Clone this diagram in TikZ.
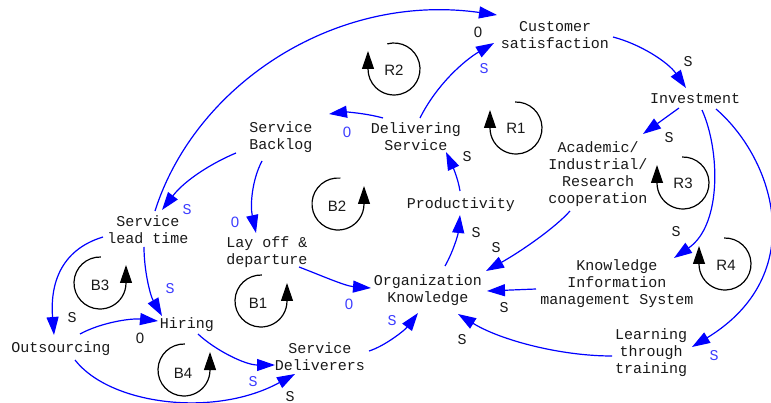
\documentclass[tikz,border=0pt]{standalone}
\usepackage{fontspec}
\setmonofont{Liberation Mono}
\newfontfamily\loopfont{Liberation Sans}
\usetikzlibrary{arrows.meta}
\definecolor{linkblue}{RGB}{0,0,255}
\definecolor{signblue}{RGB}{60,60,255}
\definecolor{txt}{RGB}{25,25,25}
\tikzset{
  var/.style={font=\ttfamily\fontsize{15}{17}\selectfont, align=center, inner sep=0pt, text=txt},
  link/.style={draw=linkblue, line width=1.2pt, -{Triangle[length=18pt,width=12pt]}},
  sgnb/.style={font=\ttfamily\fontsize{15}{17}\selectfont, inner sep=0pt, text=txt},
  sgnc/.style={font=\ttfamily\fontsize{15}{17}\selectfont, inner sep=0pt, text=signblue},
  zb/.style={font=\loopfont\fontsize{15}{17}\selectfont, inner sep=0pt, text=txt},
  zc/.style={font=\loopfont\fontsize{15}{17}\selectfont, inner sep=0pt, text=signblue},
  looplab/.style={font=\loopfont\fontsize{15}{17}\selectfont, inner sep=0pt, text=txt},
  loopline/.style={draw=black, line width=1.2pt, -{Triangle[length=18pt,width=12pt]}},
}
\begin{document}
\begin{tikzpicture}[x=1pt,y=1pt]
\useasboundingbox (0,0) rectangle (771,-403);
% variables
\node[var] (cs) at (555,-35) {Customer\\satisfaction};
\node[var] (inv) at (695,-99) {Investment};
\node[var] (sb) at (281,-137) {Service\\Backlog};
\node[var] (ds) at (416,-137) {Delivering\\Service};
\node[var] (ac) at (598,-174) {Academic/\\Industrial/\\Research\\cooperation};
\node[var] (pr) at (461,-205) {Productivity};
\node[var] (slt) at (148,-230) {Service\\lead time};
\node[var] (lo) at (267,-252) {Lay off \&\\departure};
\node[var] (ok) at (428,-290) {Organization\\Knowledge};
\node[var] (kims) at (617,-284) {Knowledge\\Information\\management System};
\node[var] (lt) at (651,-353) {Learning\\through\\training};
\node[var] (hi) at (187,-325) {Hiring};
\node[var] (os) at (61,-349) {Outsourcing};
\node[var] (sd) at (320,-357) {Service\\Deliverers};
% connectors
\draw[link] ([shift={(7,19)}]slt.center) .. controls (195,-85) and (335,8) .. ([shift={(-58,20)}]cs.center);
\draw[link] ([shift={(4,19)}]ds.center) .. controls (437,-84) and (465,-60) .. ([shift={(-61,-8)}]cs.center);
\draw[link] ([shift={(58,-2)}]cs.center) .. controls (640,-44) and (668,-62) .. ([shift={(-9,11)}]inv.center);
\draw[link] ([shift={(-16,-9)}]inv.center) -- ([shift={(45,40)}]ac.center);
\draw[link] ([shift={(7,-11)}]inv.center) .. controls (720,-150) and (722,-225) .. ([shift={(57,26)}]kims.center);
\draw[link] ([shift={(21,-10)}]inv.center) .. controls (775,-160) and (810,-275) .. ([shift={(41,6)}]lt.center);
\draw[link] ([shift={(-33,19)}]ds.center) .. controls (365,-113) and (345,-112) .. ([shift={(48,23)}]sb.center);
\draw[link] ([shift={(-45,-16)}]sb.center) .. controls (212,-163) and (185,-180) .. ([shift={(14,20)}]slt.center);
\draw[link] ([shift={(-19,-24)}]sb.center) .. controls (252,-180) and (250,-205) .. ([shift={(-11,19)}]lo.center);
\draw[link] ([shift={(32,-15)}]lo.center) .. controls (320,-275) and (345,-286) .. ([shift={(-57,2)}]ok.center);
\draw[link] ([shift={(-1,14)}]pr.center) .. controls (458,-178) and (452,-165) .. ([shift={(30,-15)}]ds.center);
\draw[link] ([shift={(17,24)}]ok.center) .. controls (453,-252) and (458,-235) .. ([shift={(-1,-10)}]pr.center);
\draw[link] ([shift={(-28,-37)}]ac.center) .. controls (555,-228) and (520,-252) .. ([shift={(58,19)}]ok.center);
\draw[link] ([shift={(-81,-5)}]kims.center) -- ([shift={(59,-1)}]ok.center);
\draw[link] ([shift={(-39,-3)}]lt.center) .. controls (560,-356) and (500,-340) .. ([shift={(30,-24)}]ok.center);
\draw[link] ([shift={(49,6)}]sd.center) .. controls (385,-346) and (405,-330) .. ([shift={(-10,-23)}]ok.center);
\draw[link] ([shift={(-4,-17)}]slt.center) .. controls (144,-270) and (150,-295) .. ([shift={(-25,9)}]hi.center);
\draw[link] ([shift={(-45,-7)}]slt.center) .. controls (60,-250) and (50,-285) .. ([shift={(-7,14)}]os.center);
\draw[link] ([shift={(19,15)}]os.center) .. controls (100,-323) and (130,-318) .. ([shift={(-29,4)}]hi.center);
\draw[link] ([shift={(11,-9)}]hi.center) .. controls (215,-350) and (245,-365) .. ([shift={(-45,-8)}]sd.center);
\draw[link] ([shift={(14,-11)}]os.center) .. controls (110,-405) and (215,-418) .. ([shift={(-25,-17)}]sd.center);
% signs
\node[zb] (s1) at (478,-32) {0};
\node[sgnc] (s2) at (484,-69) {S};
\node[sgnb] (s3) at (688,-62) {S};
\node[sgnb] (s4) at (669,-138) {S};
\node[sgnb] (s5) at (676,-232) {S};
\node[sgnc] (s6) at (714,-356) {S};
\node[zc] (s7) at (347,-132) {0};
\node[sgnc] (s8) at (187,-210) {S};
\node[zc] (s9) at (235,-222) {0};
\node[zc] (s10) at (349,-304) {0};
\node[sgnb] (s11) at (467,-157) {S};
\node[sgnb] (s12) at (476,-233) {S};
\node[sgnb] (s13) at (496,-248) {S};
\node[sgnb] (s14) at (504,-308) {S};
\node[sgnb] (s15) at (462,-340) {S};
\node[sgnc] (s16) at (392,-321) {S};
\node[sgnc] (s17) at (170,-289) {S};
\node[sgnb] (s18) at (72,-318) {S};
\node[zb] (s19) at (140,-338) {0};
\node[sgnc] (s20) at (253,-382) {S};
\node[sgnb] (s21) at (290,-397) {S};
% loops
\node[looplab] (R2) at (394,-70) {R2};
\draw[loopline] (394,-69) ++(105:26) arc[start angle=105,end angle=-180,radius=26] -- ++(0,18);
\node[looplab] (R1) at (516,-128) {R1};
\draw[loopline] (516,-128) ++(92:26) arc[start angle=92,end angle=-180,radius=26] -- ++(0,18);
\node[looplab] (R3) at (683,-183) {R3};
\draw[loopline] (683,-183) ++(92:26) arc[start angle=92,end angle=-180,radius=26] -- ++(0,18);
\node[looplab] (R4) at (726,-265) {R4};
\draw[loopline] (725,-264) ++(92:26) arc[start angle=92,end angle=-180,radius=26] -- ++(0,18);
\node[looplab] (B2) at (337,-206) {B2};
\draw[loopline] (338,-204) ++(85:26) arc[start angle=85,end angle=360,radius=26] -- ++(0,18);
\node[looplab] (B3) at (100,-285) {B3};
\draw[loopline] (100,-283) ++(88:26) arc[start angle=88,end angle=360,radius=26] -- ++(0,18);
\node[looplab] (B1) at (258,-303) {B1};
\draw[loopline] (261,-301) ++(88:26) arc[start angle=88,end angle=360,radius=26] -- ++(0,18);
\node[looplab] (B4) at (183,-373) {B4};
\draw[loopline] (184,-370) ++(88:26) arc[start angle=88,end angle=360,radius=26] -- ++(0,18);
\end{tikzpicture}
\end{document}
